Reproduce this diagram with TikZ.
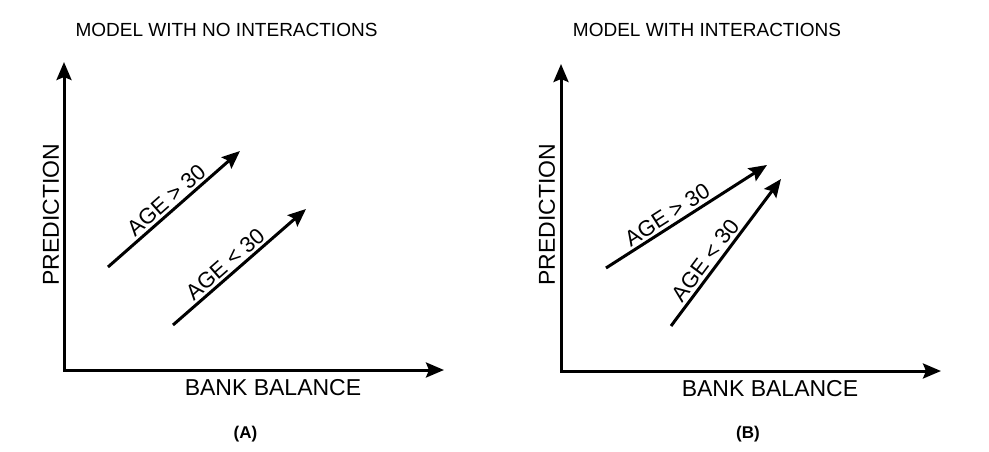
\documentclass[tikz,border=0pt]{standalone}
\usepackage{fontspec}
\setmainfont{Liberation Sans}
\usetikzlibrary{arrows.meta}
\begin{document}
\begin{tikzpicture}[x=1pt,y=-1pt,
  axis/.style={line width=3pt, line join=miter, {Stealth[length=18pt,width=15pt,inset=3pt]}-{Stealth[length=18pt,width=15pt,inset=3pt]}},
  trend/.style={line width=3pt, -{Stealth[length=18pt,width=15pt,inset=3pt]}},
  title/.style={font=\fontsize{19}{19}\selectfont, inner sep=0pt},
  axlabel/.style={font=\fontsize{23}{23}\selectfont, inner sep=0pt},
  trendlabel/.style={font=\fontsize{22}{22}\selectfont, sloped, above, inner sep=2.5pt},
  panel/.style={font=\bfseries\fontsize{17}{17}\selectfont, inner sep=0pt}]
\useasboundingbox[fill=white] (0,0) rectangle (989,452);
% ---- panel A ----
\node[title] (tA) at (226.5,30) {MODEL WITH NO INTERACTIONS};
\coordinate (oA) at (64,370);
\coordinate (yA) at (64,62);
\coordinate (xA) at (444,370);
\draw[axis] (yA) -- (oA) -- (xA);
\node[axlabel] (bA) at (273,388) {BANK BALANCE};
\node[axlabel, rotate=90] (pA) at (51,214.5) {PREDICTION};
\coordinate (a1s) at (108,267);
\coordinate (a1e) at (240,151);
\coordinate (a2s) at (173,325);
\coordinate (a2e) at (306,209);
\draw[trend] (a1s) -- node[trendlabel, pos=0.5] (lA1) {AGE > 30} (a1e);
\draw[trend] (a2s) -- node[trendlabel, pos=0.45] (lA2) {AGE < 30} (a2e);
\node[panel] (pnA) at (245.5,434) {(A)};
% ---- panel B ----
\node[title] (tB) at (707,30) {MODEL WITH INTERACTIONS};
\coordinate (oB) at (561,371);
\coordinate (yB) at (561,64);
\coordinate (xB) at (941,371);
\draw[axis] (yB) -- (oB) -- (xB);
\node[axlabel] (bB) at (770,389) {BANK BALANCE};
\node[axlabel, rotate=90] (pB) at (547,214.5) {PREDICTION};
\coordinate (b1s) at (606,268);
\coordinate (b1e) at (767,165);
\coordinate (b2s) at (671,326);
\coordinate (b2e) at (781,179);
\draw[trend] (b1s) -- node[trendlabel, pos=0.42] (lB1) {AGE > 30} (b1e);
\draw[trend] (b2s) -- node[trendlabel, pos=0.4] (lB2) {AGE < 30} (b2e);
\node[panel] (pnB) at (748,434) {(B)};
\end{tikzpicture}
\end{document}
